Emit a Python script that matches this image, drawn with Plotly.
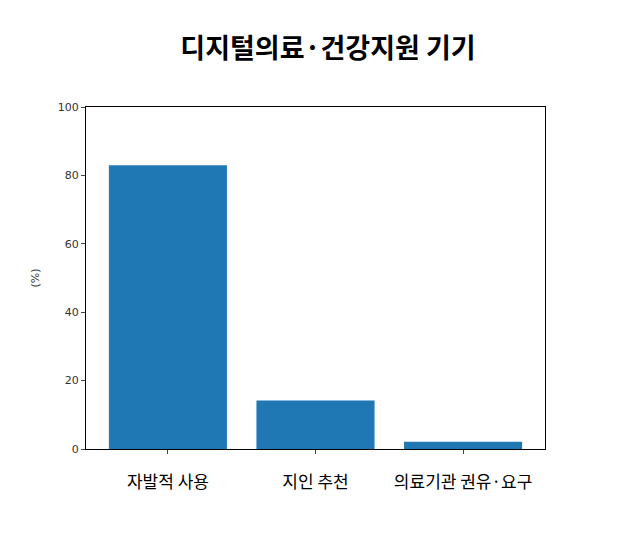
import plotly.graph_objects as go

categories = ["자발적 사용", "지인 추천", "의료기관 권유·요구"]
values = [83.0, 14.2, 2.1]

fig = go.Figure(go.Bar(x=[0, 1, 2], y=values, width=0.8, marker=dict(color="#1f77b4", line=dict(width=0))))

fig.update_layout(
    width=640, height=535,
    paper_bgcolor="white", plot_bgcolor="white",
    margin=dict(l=78, r=103, t=99, b=94),
    title=dict(text="<b>디지털의료·건강지원 기기</b>", x=0.5, xanchor="center", y=0.925, yanchor="middle",
               font=dict(family="Noto Sans CJK KR", size=27, color="black")),
    showlegend=False,
)
fig.update_xaxes(range=[-0.555, 2.555], tickvals=[0, 1, 2], ticktext=categories,
                 showline=True, linecolor="black", linewidth=1, mirror=True,
                 ticks="outside", ticklen=4, showgrid=False, zeroline=False,
                 ticklabelstandoff=14,
                 tickfont=dict(family="Noto Sans CJK KR", size=17, color="black"))
fig.update_yaxes(range=[0, 100], tickvals=[0, 20, 40, 60, 80, 100],
                 showline=True, linecolor="black", linewidth=1, mirror=True,
                 ticks="outside", ticklen=4, showgrid=False, zeroline=False,
                 title=dict(text="(%)", font=dict(family="DejaVu Sans", size=11, color="#333")),
                 tickfont=dict(family="DejaVu Sans", size=11, color="#333"))

fig.write_html("out.html")
